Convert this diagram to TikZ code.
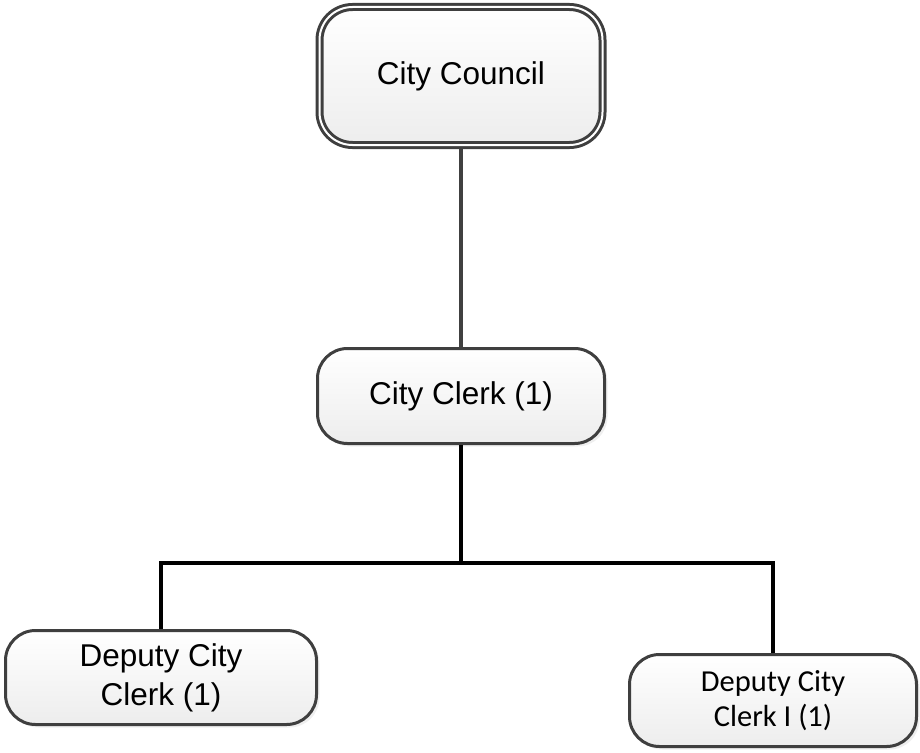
\documentclass[tikz,border=0pt]{standalone}
\usepackage{fontspec}
\setmainfont{Liberation Sans}
\newfontfamily\calfont{Carlito}
\usetikzlibrary{shadows}
\definecolor{edge}{HTML}{3F3F3F}
\definecolor{boxbottom}{HTML}{EDEDED}
\tikzset{
  orgbox/.style={
    rectangle, rounded corners=30pt, draw=edge, line width=3pt,
    top color=white, bottom color=boxbottom,
    inner sep=0pt, align=center, text=black,
    drop shadow={shadow xshift=3pt, shadow yshift=-3pt, fill=black!12}
  },
  arialtext/.style={font=\fontsize{31.5}{39}\selectfont},
  calibritext/.style={font=\calfont\fontsize{30.5}{35}\selectfont},
  upperlink/.style={draw=black!75, line width=3.5pt},
  lowerlink/.style={draw=black, line width=4pt},
}
\begin{document}
\begin{tikzpicture}[x=1pt, y=-1pt]
  \useasboundingbox (0,0) rectangle (920,752);

  % council, framed with a double border
  \node[orgbox, arialtext, rounded corners=33pt, double=white, double distance=2pt,
        minimum width=283pt, minimum height=138pt] (council) at (461,76) {City Council};

  \node[orgbox, arialtext, minimum width=287pt, minimum height=95pt]
        (clerk) at (461,396) {City Clerk (1)};

  \node[orgbox, arialtext, minimum width=311pt, minimum height=94pt]
        (dleft) at (161,677.5) {Deputy City\\Clerk (1)};

  \node[orgbox, calibritext, minimum width=287pt, minimum height=92pt]
        (dright) at (773,700.5) {Deputy City\\Clerk I (1)};

  \coordinate (bus) at (461,563);

  % reporting lines
  \draw[upperlink] (council) -- (clerk);
  \draw[lowerlink] (clerk) -- (bus);
  \draw[lowerlink] (dleft.north) |- (bus) -| (dright.north);
\end{tikzpicture}
\end{document}
